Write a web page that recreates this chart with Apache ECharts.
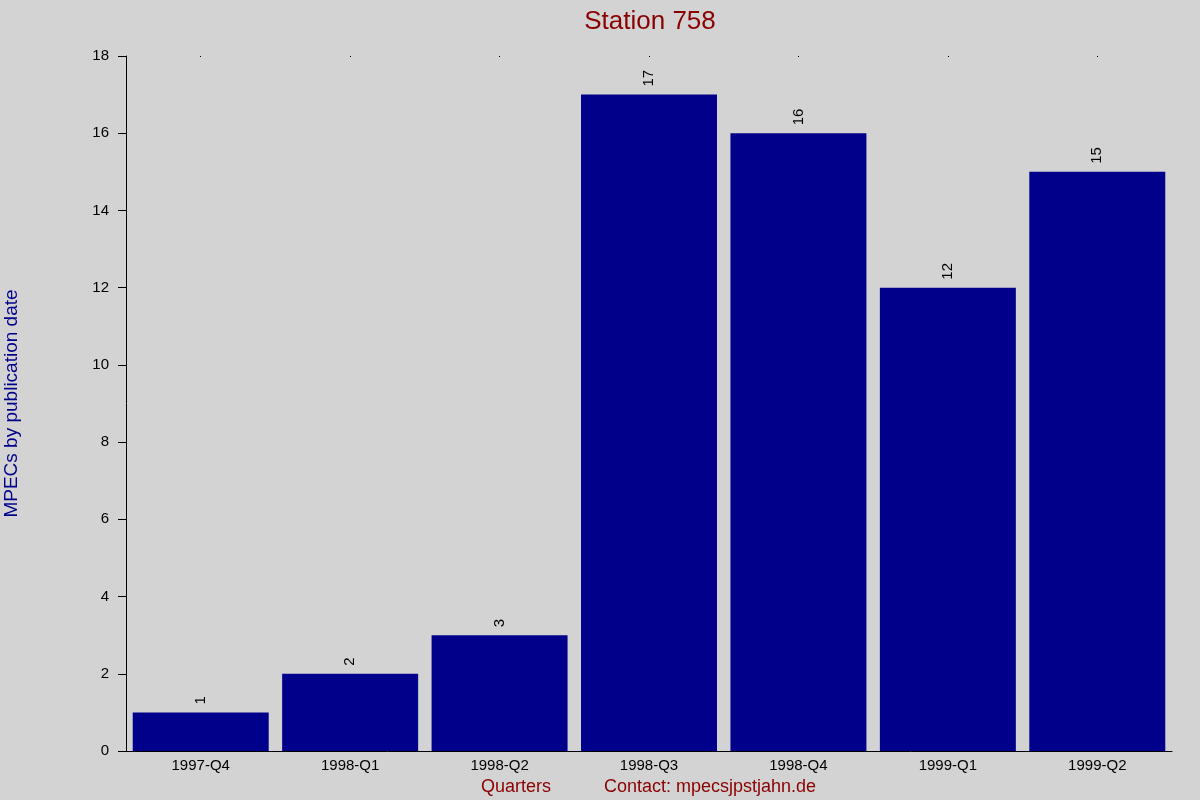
<!DOCTYPE html>
<html><head><meta charset="utf-8">
<script src="https://cdn.jsdelivr.net/npm/echarts@6/dist/echarts.min.js"></script>
<style>html,body{margin:0;padding:0;background:#d3d3d3}#c{width:1200px;height:800px}</style>
</head><body><div id="c"></div>
<script>
var categories = ['1997-Q4','1998-Q1','1998-Q2','1998-Q3','1998-Q4','1999-Q1','1999-Q2'];
var values = [1, 2, 3, 17, 16, 12, 15];
var yTicks = [0, 2, 4, 6, 8, 10, 12, 14, 16, 18];

var chart = echarts.init(document.getElementById('c'));
var font = 'Liberation Sans, Arial, sans-serif';
chart.setOption({
  backgroundColor: '#d3d3d3',
  animation: false,
  title: [
    {text: 'Station 758', left: 645, top: 4, textAlign: 'center',
     textStyle: {color: '#8b0000', fontSize: 26, fontWeight: 'normal', fontFamily: font}},
    {text: 'Quarters', left: 511, top: 773, textAlign: 'center',
     textStyle: {color: '#8b0000', fontSize: 18, fontWeight: 'normal', fontFamily: font}},
    {text: 'Contact: mpecsjpstjahn.de', left: 705, top: 773, textAlign: 'center',
     textStyle: {color: '#8b0000', fontSize: 18, fontWeight: 'normal', fontFamily: font}}
  ],
  grid: {left: 126, right: 28, top: 56, bottom: 49, containLabel: false, outerBoundsMode: 'none'},
  xAxis: [{
    type: 'category', data: categories,
    axisLine: {lineStyle: {color: '#000', width: 1}},
    axisTick: {show: false},
    axisLabel: {color: '#000', fontSize: 15, fontFamily: font, margin: 7}
  }, {
    type: 'category', data: categories, position: 'top',
    axisLine: {show: false},
    axisTick: {show: true, alignWithLabel: true, length: 1, inside: true, lineStyle: {color: '#000'}},
    axisLabel: {show: false}
  }],
  yAxis: {
    type: 'value', min: 0, max: 18, interval: 2,
    name: 'MPECs by publication date', nameLocation: 'middle', nameGap: 105, nameRotate: 90,
    nameTextStyle: {color: '#00008b', fontSize: 19, fontFamily: font},
    axisLine: {show: true, lineStyle: {color: '#000'}},
    axisTick: {show: true, length: 8, lineStyle: {color: '#000'}},
    splitLine: {show: false},
    axisLabel: {color: '#000', fontSize: 15, fontFamily: font, margin: 17,
      formatter: function(v){ return yTicks.indexOf(v) >= 0 ? String(v) : ''; }}
  },
  series: [{
    type: 'bar', data: values, xAxisIndex: 0,
    barCategoryGap: '9%',
    itemStyle: {color: '#00008b'},
    label: {show: true, position: 'top', rotate: 90, align: 'left', verticalAlign: 'middle',
      distance: 6, offset: [2, 0], color: '#000', fontSize: 15, fontFamily: font}
  }]
});
</script></body></html>
